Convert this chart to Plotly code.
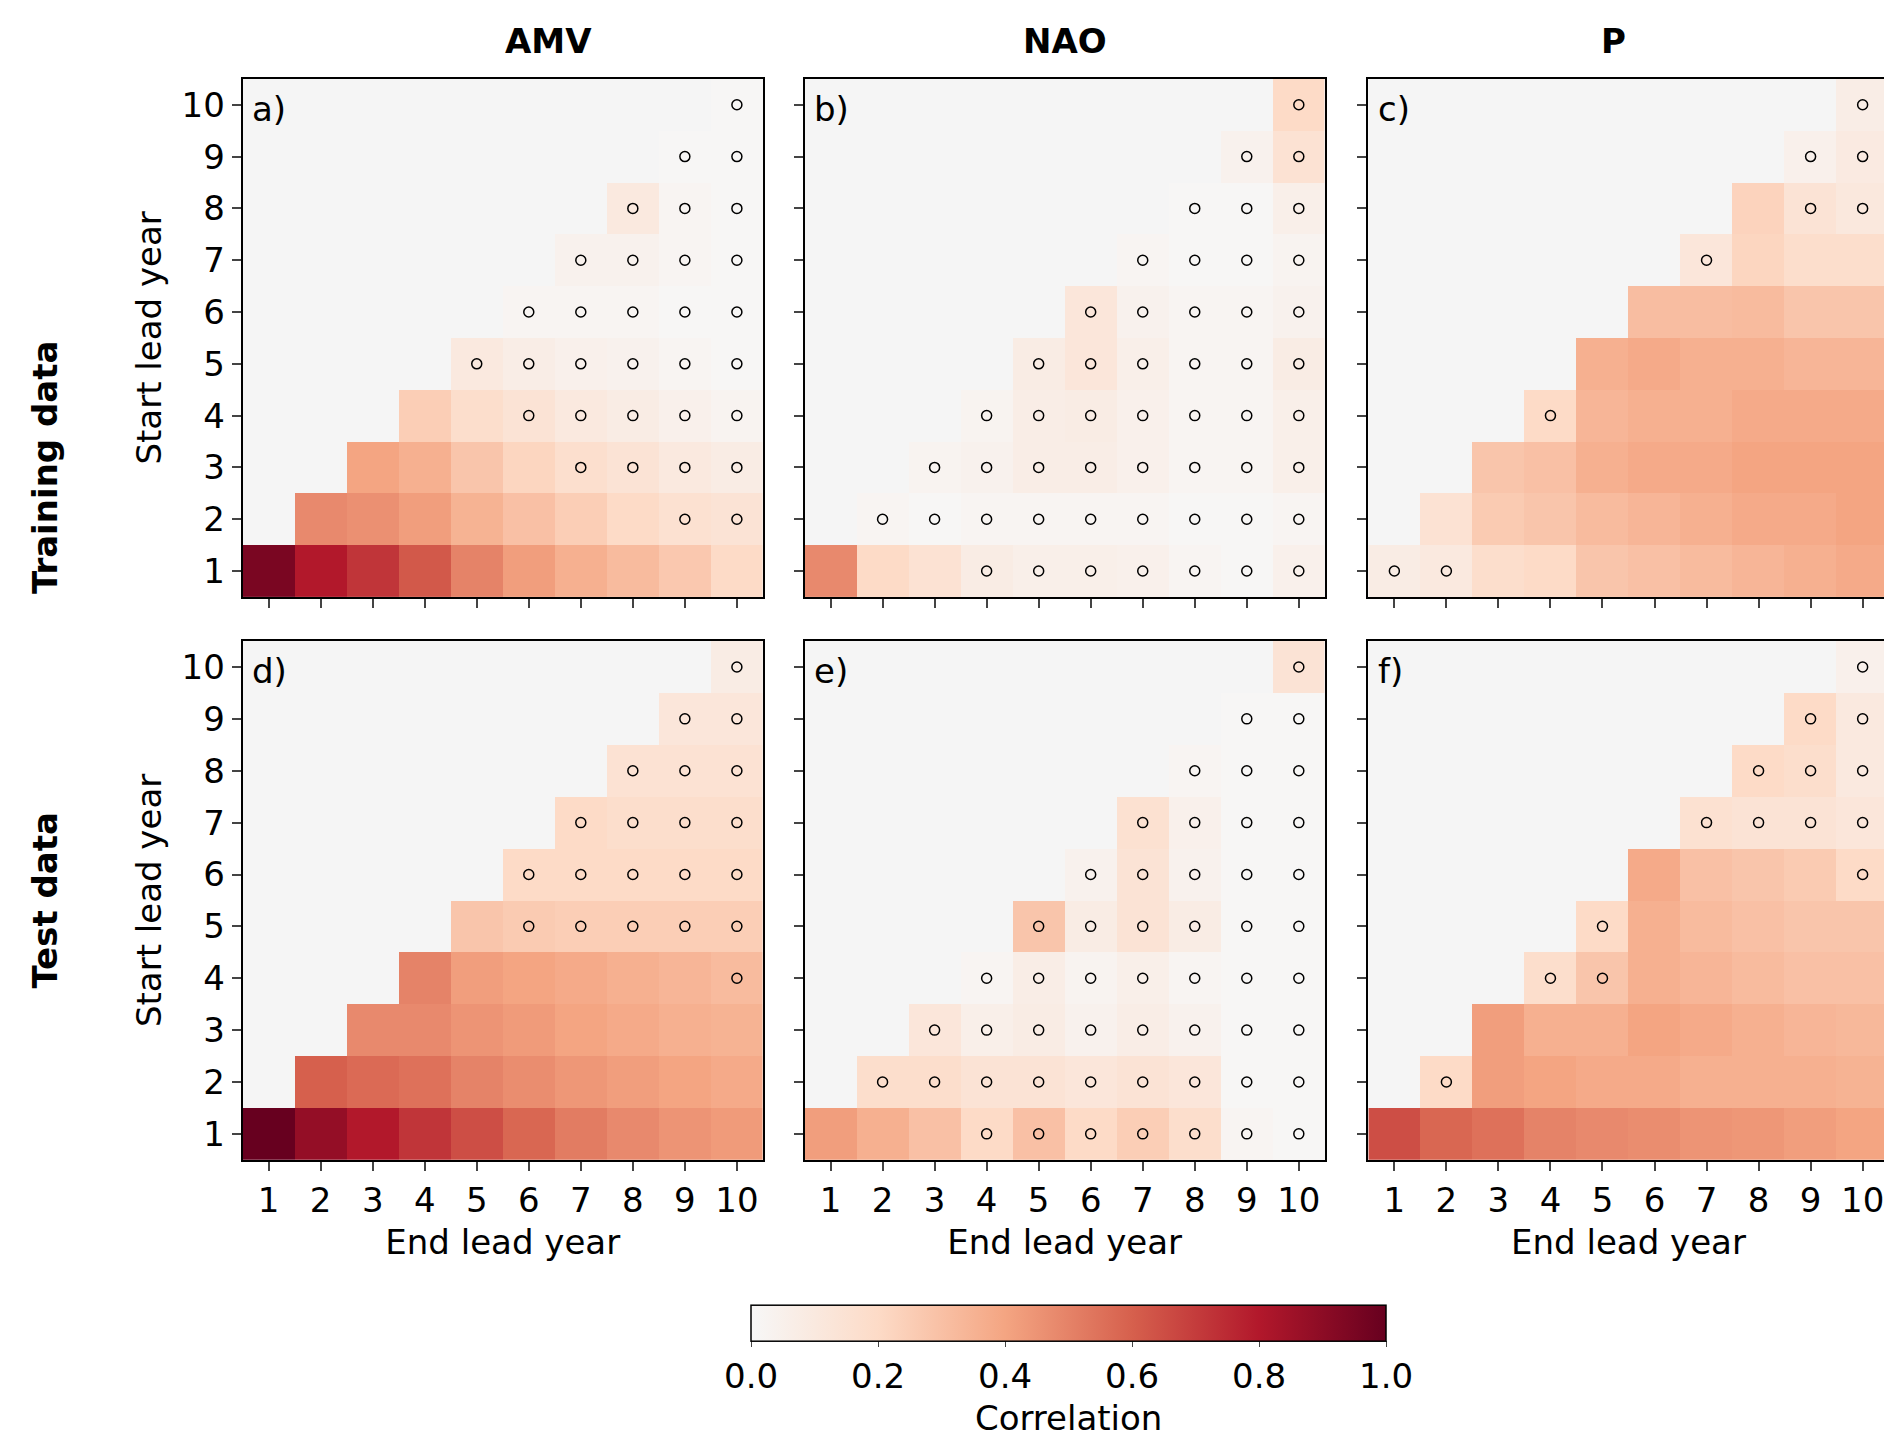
import numpy as np
import plotly.graph_objects as go

years = list(range(1, 10 + 1))
col_titles = ["AMV", "NAO", "P"]
row_titles = ["Training data", "Test data"]
panel_labels = ["a)", "b)", "c)", "d)", "e)", "f)"]

# rows: start lead year 1..10, values for end lead year = start..10
amv_train = [
    [0.95, 0.80, 0.72, 0.62, 0.50, 0.42, 0.36, 0.32, 0.27, 0.20],
    [0.48, 0.46, 0.42, 0.35, 0.30, 0.25, 0.20, 0.16, 0.14],
    [0.40, 0.36, 0.28, 0.22, 0.17, 0.14, 0.10, 0.08],
    [0.25, 0.18, 0.14, 0.10, 0.08, 0.05, 0.03],
    [0.10, 0.07, 0.05, 0.04, 0.02, 0.01],
    [0.02, 0.02, 0.02, 0.01, 0.01],
    [0.04, 0.04, 0.02, 0.01],
    [0.10, 0.02, 0.01],
    [0.01, 0.01],
    [0.01],
]
nao_train = [
    [0.48, 0.20, 0.15, 0.08, 0.06, 0.06, 0.05, 0.02, 0.01, 0.05],
    [0.02, 0.01, 0.02, 0.02, 0.02, 0.02, 0.01, 0.01, 0.02],
    [0.03, 0.04, 0.07, 0.07, 0.05, 0.02, 0.02, 0.06],
    [0.03, 0.07, 0.08, 0.05, 0.02, 0.02, 0.06],
    [0.08, 0.12, 0.06, 0.02, 0.02, 0.08],
    [0.12, 0.04, 0.02, 0.02, 0.04],
    [0.02, 0.01, 0.01, 0.03],
    [0.01, 0.01, 0.06],
    [0.04, 0.15],
    [0.20],
]
p_train = [
    [0.08, 0.10, 0.18, 0.20, 0.28, 0.30, 0.32, 0.34, 0.36, 0.38],
    [0.15, 0.26, 0.28, 0.32, 0.34, 0.36, 0.38, 0.38, 0.40],
    [0.28, 0.30, 0.36, 0.38, 0.38, 0.40, 0.40, 0.40],
    [0.20, 0.34, 0.36, 0.36, 0.38, 0.38, 0.38],
    [0.36, 0.38, 0.36, 0.36, 0.34, 0.34],
    [0.31, 0.31, 0.32, 0.28, 0.28],
    [0.12, 0.22, 0.18, 0.18],
    [0.23, 0.14, 0.11],
    [0.05, 0.09],
    [0.07],
]
amv_test = [
    [1.00, 0.88, 0.80, 0.72, 0.65, 0.58, 0.52, 0.48, 0.45, 0.43],
    [0.60, 0.57, 0.55, 0.50, 0.47, 0.44, 0.42, 0.40, 0.38],
    [0.48, 0.48, 0.45, 0.43, 0.40, 0.38, 0.36, 0.35],
    [0.50, 0.42, 0.40, 0.38, 0.36, 0.34, 0.32],
    [0.28, 0.26, 0.25, 0.25, 0.25, 0.25],
    [0.20, 0.20, 0.20, 0.20, 0.20],
    [0.20, 0.18, 0.18, 0.18],
    [0.15, 0.15, 0.15],
    [0.12, 0.12],
    [0.08],
]
nao_test = [
    [0.42, 0.36, 0.30, 0.20, 0.30, 0.20, 0.25, 0.18, 0.02, 0.01],
    [0.18, 0.18, 0.14, 0.14, 0.12, 0.14, 0.12, 0.01, 0.01],
    [0.12, 0.06, 0.08, 0.04, 0.07, 0.04, 0.01, 0.01],
    [0.02, 0.07, 0.03, 0.06, 0.02, 0.01, 0.01],
    [0.28, 0.08, 0.14, 0.08, 0.01, 0.01],
    [0.04, 0.14, 0.04, 0.01, 0.01],
    [0.16, 0.05, 0.01, 0.01],
    [0.02, 0.01, 0.01],
    [0.01, 0.01],
    [0.14],
]
p_test = [
    [0.65, 0.58, 0.55, 0.50, 0.48, 0.47, 0.45, 0.44, 0.42, 0.40],
    [0.20, 0.42, 0.40, 0.38, 0.38, 0.36, 0.36, 0.36, 0.35],
    [0.42, 0.36, 0.36, 0.40, 0.38, 0.36, 0.34, 0.33],
    [0.18, 0.28, 0.36, 0.34, 0.32, 0.30, 0.30],
    [0.20, 0.36, 0.32, 0.30, 0.28, 0.28],
    [0.38, 0.30, 0.28, 0.26, 0.20],
    [0.16, 0.14, 0.14, 0.12],
    [0.20, 0.18, 0.10],
    [0.20, 0.10],
    [0.05],
]

# not significant cells: start lead year -> list of end lead years
amv_train_ns = {2: [9, 10], 3: [7, 8, 9, 10], 4: [6, 7, 8, 9, 10], 5: [5, 6, 7, 8, 9, 10],
                6: [6, 7, 8, 9, 10], 7: [7, 8, 9, 10], 8: [8, 9, 10], 9: [9, 10], 10: [10]}
nao_train_ns = {1: [4, 5, 6, 7, 8, 9, 10], **{s: list(range(s, 11)) for s in range(2, 11)}}
p_train_ns = {1: [1, 2], 4: [4], 7: [7], 8: [9, 10], 9: [9, 10], 10: [10]}
amv_test_ns = {4: [10], 5: [6, 7, 8, 9, 10], **{s: list(range(s, 11)) for s in range(6, 11)}}
nao_test_ns = {1: [4, 5, 6, 7, 8, 9, 10], **{s: list(range(s, 11)) for s in range(2, 11)}}
p_test_ns = {2: [2], 4: [4, 5], 5: [5], 6: [10], 7: [7, 8, 9, 10], 8: [8, 9, 10], 9: [9, 10], 10: [10]}

panels = [amv_train, nao_train, p_train, amv_test, nao_test, p_test]
not_sig = [amv_train_ns, nao_train_ns, p_train_ns, amv_test_ns, nao_test_ns, p_test_ns]

colorscale = [[0.0, "#f7f7f7"], [0.2, "#fddbc7"], [0.4, "#f4a582"],
              [0.6, "#d6604d"], [0.8, "#b2182b"], [1.0, "#67001f"]]

W, H = 1892, 1447
xdoms = [(0.124, 0.399), (0.421, 0.696), (0.719, 0.994)]
ydoms = [(0.593, 0.951), (0.204, 0.5625)]
FONT = "DejaVu Sans"
fs = 34

fig = go.Figure()
for i, rows in enumerate(panels):
    r, c = divmod(i, 3)
    z = np.full((10, 10), np.nan)
    for s, vals in enumerate(rows):
        z[s, s:] = vals
    ax = "" if i == 0 else str(i + 1)
    fig.add_trace(go.Heatmap(
        z=z, x=years, y=years, zmin=0, zmax=1, colorscale=colorscale,
        xaxis="x" + ax, yaxis="y" + ax, showscale=(i == 0), hoverongaps=False,
        colorbar=dict(orientation="h", x=0.3875, xanchor="left", len=0.346, lenmode="fraction",
                      y=0.004, yanchor="bottom", thickness=36, outlinecolor="black", outlinewidth=1.5,
                      tickvals=[0, 0.2, 0.4, 0.6, 0.8, 1.0], ticktext=["0.0", "0.2", "0.4", "0.6", "0.8", "1.0"],
                      ticks="outside", ticklen=6, tickfont=dict(size=fs, family=FONT),
                      title=dict(text="Correlation", side="bottom", font=dict(size=fs, family=FONT)))))
    xs, ys = [], []
    for s, ends in not_sig[i].items():
        for e in ends:
            xs.append(e)
            ys.append(s)
    fig.add_trace(go.Scatter(x=xs, y=ys, mode="markers", xaxis="x" + ax, yaxis="y" + ax,
                             marker=dict(symbol="circle-open", size=10, color="black", line=dict(width=1.5)),
                             showlegend=False, hoverinfo="skip"))
    common = dict(range=[0.5, 10.5], tickvals=years, ticks="outside", ticklen=9, tickwidth=1.5,
                  showline=True, linecolor="black", linewidth=2, mirror=True, showgrid=False,
                  zeroline=False, tickfont=dict(size=fs, family=FONT))
    xa = dict(common, domain=xdoms[c], anchor="y" + ax, showticklabels=(r == 1))
    if r == 1:
        xa["title"] = dict(text="End lead year", font=dict(size=fs, family=FONT), standoff=12)
    ya = dict(common, domain=ydoms[r], anchor="x" + ax, showticklabels=(c == 0))
    if c == 0:
        ya["title"] = dict(text="Start lead year", font=dict(size=fs, family=FONT), standoff=10)
    fig.layout["xaxis" + ax] = xa
    fig.layout["yaxis" + ax] = ya
    fig.add_annotation(text=panel_labels[i], xref="x" + ax + " domain", yref="y" + ax + " domain",
                       x=0.015, y=0.985, xanchor="left", yanchor="top", showarrow=False,
                       font=dict(size=fs, family=FONT, color="black"))

for c, t in enumerate(col_titles):
    fig.add_annotation(text="<b>" + t + "</b>", xref="paper", yref="paper",
                       x=sum(xdoms[c]) / 2, y=0.962, yanchor="bottom", showarrow=False,
                       font=dict(size=fs, family=FONT, color="black"))
for r, t in enumerate(row_titles):
    fig.add_annotation(text="<b>" + t + "</b>", xref="paper", yref="paper",
                       x=0.008, xanchor="left", y=sum(ydoms[r]) / 2, textangle=-90, showarrow=False,
                       font=dict(size=fs, family=FONT, color="black"))

fig.update_layout(width=W, height=H, margin=dict(l=0, r=0, t=0, b=0),
                  plot_bgcolor="#f5f5f5", paper_bgcolor="white",
                  font=dict(family=FONT, color="black"), showlegend=False)
fig.write_html("out.html")
